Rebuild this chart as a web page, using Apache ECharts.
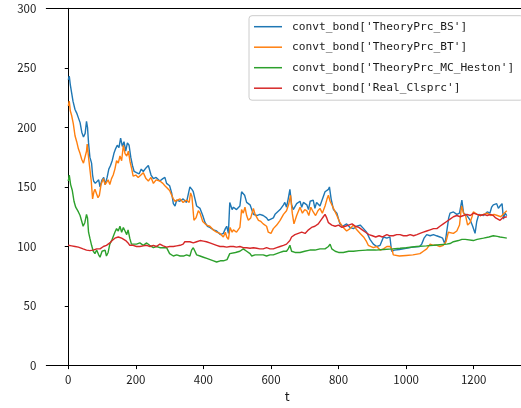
<!DOCTYPE html>
<html>
<head>
<meta charset="utf-8">
<script src="https://cdn.jsdelivr.net/npm/echarts@6/dist/echarts.min.js"></script>
<style>html,body{margin:0;padding:0;background:#fff}#c{width:521px;height:408px}</style>
</head>
<body>
<div id="c"></div>
<script>
const SERIES_NAMES = ["convt_bond['TheoryPrc_BS']", "convt_bond['TheoryPrc_BT']", "convt_bond['TheoryPrc_MC_Heston']", "convt_bond['Real_Clsprc']"];
const X_TICKS = [0, 200, 400, 600, 800, 1000, 1200];
const Y_TICKS = [0, 50, 100, 150, 200, 250, 300];

const BS = [[0,240],[3,243],[6,236],[10,229],[14,222],[20,215],[25,212],[30,208],[35,204],[40,196],[45,192],[50,195],[54,205],[57,200],[60,187],[64,175],[69,170],[72,160],[75,155],[80,153],[84,152],[90,156],[94,150],[100,156],[105,158],[109,152],[115,158],[120,165],[125,168],[130,172],[135,178],[140,182],[145,185],[150,183],[155,191],[160,184],[165,188],[170,180],[175,187],[180,185],[185,175],[190,168],[195,163],[202,162],[210,161],[216,165],[222,163],[230,166],[237,168],[245,160],[252,157],[260,158],[271,155],[280,157],[286,158],[291,153],[300,151],[306,145],[311,136],[316,134],[321,139],[330,138],[340,140],[350,137],[355,138],[360,150],[366,148],[370,146],[375,140],[380,134],[385,135],[390,132],[398,126],[405,120],[412,117],[419,116],[430,114],[439,113],[450,110],[459,111],[465,115],[469,117],[474,111],[478,137],[485,131],[489,133],[498,131],[508,134],[513,146],[518,147],[522,143],[528,137],[533,136],[538,135],[543,134],[548,127],[558,126],[567,127],[577,126],[587,124],[592,122],[597,121],[607,124],[612,127],[617,126],[627,131],[637,135],[641,137],[646,133],[651,140],[656,148],[661,135],[666,131],[676,136],[686,138],[691,133],[696,137],[706,135],[711,131],[716,138],[725,139],[730,132],[735,137],[745,134],[750,138],[755,142],[760,146],[765,147],[770,148],[773,150],[778,140],[785,131],[790,130],[795,128],[804,119],[812,117],[824,119],[834,116],[844,115],[854,117],[864,118],[874,115],[883,112],[888,109],[893,106],[903,102],[913,100],[923,101],[933,108],[943,107],[952,108],[957,96],[965,97],[980,97.5],[1000,98.5],[1020,99.5],[1040,100],[1046,102],[1053,107],[1061,110],[1071,109],[1081,110],[1090,109],[1100,108],[1108,107],[1115,102],[1120,112],[1126,124],[1130,128],[1140,129],[1150,127],[1158,128],[1165,139],[1170,128],[1180,126],[1190,122],[1197,117],[1204,111],[1209,121],[1215,127],[1220,128],[1229,126],[1240,129],[1248,128],[1253,133],[1258,135],[1268,136],[1273,132],[1278,134],[1284,136],[1288,123],[1293,128],[1298,126]];

const BT = [[0,218],[3,222],[6,214],[10,210],[15,203],[20,193],[25,188],[30,182],[35,178],[40,173],[45,170],[50,171],[54,180],[56,186],[60,175],[64,165],[68,155],[72,140],[76,146],[79,148],[84,144],[88,141],[92,143],[97,152],[104,157],[109,152],[113,151],[118,156],[123,152],[128,157],[133,160],[138,165],[143,172],[148,170],[153,176],[158,172],[163,185],[168,178],[173,176],[178,180],[183,171],[188,165],[192,159],[200,160],[207,158],[215,160],[222,162],[230,157],[237,155],[245,158],[252,153],[260,156],[271,155],[280,153],[286,151],[291,150],[300,147],[311,140],[316,138],[321,138],[331,140],[340,137],[350,139],[358,137],[362,145],[366,142],[372,122],[378,124],[385,130],[390,128],[398,121],[409,118],[419,117],[429,114],[439,112],[449,111],[459,108],[465,112],[469,108],[474,106],[479,116],[485,112],[489,114],[498,112],[508,116],[513,131],[518,128],[523,133],[528,126],[533,122],[540,124],[548,132],[553,127],[563,122],[570,121],[577,119],[587,117],[592,112],[600,111],[607,115],[617,118],[627,122],[637,127],[646,130],[652,135],[658,143],[663,128],[668,119],[676,126],[686,133],[693,128],[700,131],[706,130],[712,126],[718,133],[725,129],[732,126],[739,130],[745,132],[752,128],[760,134],[766,140],[770,143],[775,138],[780,135],[785,132],[795,126],[804,120],[814,116],[824,113],[834,115],[844,118],[854,114],[864,111],[874,108],[883,104],[888,101],[893,100],[903,99],[913,100],[923,97],[933,98],[943,100],[952,100],[958,98],[962,93],[980,92],[1000,92.5],[1020,93],[1041,94],[1051,96],[1061,98],[1071,102],[1081,101],[1091,101],[1100,100],[1110,101],[1118,104],[1125,112],[1130,113],[1140,111],[1150,113],[1158,118],[1164,134],[1170,128],[1176,126],[1182,118],[1189,120],[1195,125],[1199,129],[1210,127],[1220,126],[1230,127],[1240,128],[1250,126],[1260,127],[1270,126],[1280,125],[1290,128],[1298,130]];

const HESTON = [[0,155],[3,160],[7,152],[12,147],[17,138],[22,133],[25,132],[30,129],[35,126],[40,121],[44,117],[49,120],[54,127],[57,124],[60,112],[64,107],[69,101],[74,96],[79,94],[84,97],[90,93],[94,91],[100,96],[105,95],[109,97],[113,92],[118,95],[123,102],[130,106],[138,112],[143,115],[148,113],[153,117],[158,112],[163,116],[168,113],[173,110],[177,114],[182,107],[187,102],[192,101],[202,102],[212,103],[222,101],[232,103],[241,101],[252,99],[261,100],[271,99],[281,99],[291,99],[300,94],[311,92],[321,93],[331,92],[341,92],[350,93],[360,92],[365,97],[370,99],[375,96],[380,93],[390,92],[400,91],[410,90],[420,89],[430,88],[439,87],[450,88],[459,88],[470,89],[478,94],[483,95],[495,95],[508,96],[518,98],[528,96],[538,94],[543,92],[553,93],[567,93],[577,93],[587,92],[597,93],[607,93],[617,94],[627,95],[637,96],[646,96],[651,98],[656,101],[661,96],[671,95],[686,95],[700,96],[715,97],[730,97],[745,98],[760,98],[770,100],[775,102],[780,98],[790,96],[800,95],[814,95],[830,96],[844,96],[860,96.5],[883,97],[910,97],[933,97.5],[960,98],[982,98.5],[1000,99],[1031,100],[1060,100.5],[1081,101],[1100,101.5],[1120,102],[1130,102.5],[1140,104],[1155,105],[1165,106],[1169,107],[1175,106],[1199,105],[1210,106],[1229,107],[1245,108],[1258,109],[1270,108.5],[1278,108],[1290,107.5],[1298,107]];

const REAL = [[0,101],[10,100.5],[20,100],[30,99.5],[44,98],[54,97],[59,96],[64,96.5],[74,97],[84,98],[94,98],[104,100],[113,101],[123,103],[130,105],[138,107],[148,108],[153,109],[158,107],[163,107],[170,105],[177,103],[182,101],[192,101],[202,100],[212,100],[222,100.5],[232,101],[242,100],[252,101],[261,100],[271,102],[281,100.5],[291,99.5],[300,100],[311,100],[321,100.5],[331,101],[340,102],[345,104],[350,105],[360,104],[370,103],[380,104],[390,105],[400,104.5],[409,104],[419,103],[429,102],[439,101],[449,100],[459,100],[469,99.5],[479,100],[489,100],[498,99.5],[508,100],[518,99],[528,99],[538,98.5],[548,99],[558,98.5],[567,98],[577,98],[587,99],[597,98],[607,98],[617,99],[627,100],[637,101],[646,102],[656,105],[661,108],[671,110],[681,111],[691,112],[701,111],[711,114],[720,116],[730,117],[740,119],[750,123],[755,125],[760,127],[765,124],[770,120],[780,118],[790,117],[800,118],[810,116],[820,117],[830,118],[840,119],[850,117],[860,116],[870,114],[880,112],[890,110],[900,109],[910,108],[920,109],[930,108],[943,110],[952,109],[962,109],[972,110],[982,110],[992,109],[1002,109],[1012,110],[1022,109],[1032,110],[1041,111],[1051,112],[1061,113],[1071,114],[1081,115],[1091,115],[1100,117],[1110,119],[1120,121],[1130,123],[1140,125],[1150,126],[1160,125],[1170,126],[1180,127],[1190,126],[1199,128],[1210,127],[1220,126],[1230,127],[1240,126],[1250,127],[1258,126],[1265,124],[1270,123],[1278,122],[1285,124],[1290,123],[1298,125]];

const COLORS = ['#1f77b4', '#ff7f0e', '#2ca02c', '#d62728'];
const DATA = [BS, BT, HESTON, REAL];

const chart = echarts.init(document.getElementById('c'), null, {renderer: 'canvas'});
const tickFont = {fontFamily: 'Noto Sans CJK SC', fontSize: 11.5, color: '#1a1a1a', formatter: v => String(v)};
chart.setOption({
  animation: false,
  backgroundColor: '#fff',
  grid: {left: 46.3, right: 0, top: 8.3, bottom: 40.3, containLabel: false},
  legend: {
    orient: 'vertical', left: 249, top: 15.7,
    data: SERIES_NAMES,
    icon: 'rect', itemWidth: 28, itemHeight: 1.5, itemGap: 6.5,
    padding: [4, 9, 5, 5],
    backgroundColor: '#fff', borderColor: '#cccccc', borderWidth: 1, borderRadius: 3,
    textStyle: {fontFamily: 'DejaVu Sans Mono', fontSize: 11.2, color: '#1a1a1a', lineHeight: 14, padding: [0, 0, 0, 5]}
  },
  xAxis: [{
    type: 'value', min: -65, max: 1340,
    name: 't', nameLocation: 'middle', nameGap: 22,
    nameTextStyle: {fontFamily: 'Noto Sans CJK SC', fontSize: 13, color: '#1a1a1a', padding: [0, 0, 0, 7]},
    axisLine: {show: true, onZero: false, lineStyle: {color: '#000', width: 1}},
    axisTick: {show: true, length: 3.5, customValues: X_TICKS, lineStyle: {color: '#000'}},
    axisLabel: Object.assign({customValues: X_TICKS, margin: 8}, tickFont),
    splitLine: {show: false}
  }, {
    type: 'value', min: -65, max: 1340, position: 'top',
    axisLine: {show: true, onZero: false, lineStyle: {color: '#000', width: 1}},
    axisTick: {show: false}, axisLabel: {show: false}, splitLine: {show: false}
  }],
  yAxis: {
    type: 'value', min: 0, max: 300, interval: 50,
    axisLine: {show: true, lineStyle: {color: '#000', width: 1}},
    axisTick: {show: true, length: 3.5, lineStyle: {color: '#000'}},
    axisLabel: Object.assign({margin: 10}, tickFont),
    splitLine: {show: false}
  },
  series: DATA.map((d, i) => ({
    name: SERIES_NAMES[i], type: 'line', data: d, xAxisIndex: 0,
    showSymbol: false, symbol: 'none',
    lineStyle: {color: COLORS[i], width: 1.4},
    itemStyle: {color: COLORS[i]},
    z: 2 + i
  }))
});
</script>
</body>
</html>
